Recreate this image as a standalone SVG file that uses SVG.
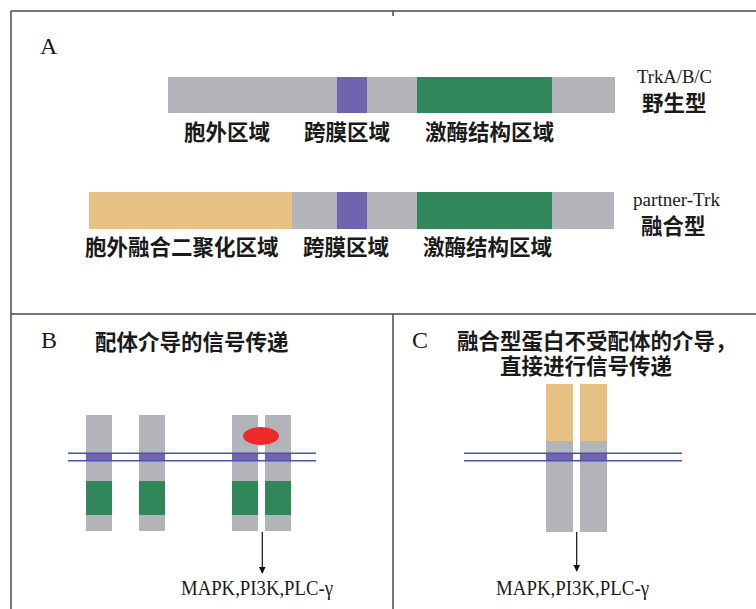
<svg xmlns="http://www.w3.org/2000/svg" width="756" height="609" viewBox="0 0 756 609">
<defs>
<style>
.frame{stroke:#4a4a4a;stroke-width:1.5;fill:none}
.gray{fill:#b3b4b9}
.tm{fill:#7064ae}
.kin{fill:#31865a}
.part{fill:#e7c083}
.mem{stroke:#4a52b3;stroke-width:1.6;fill:none}
.cjk{font-family:"Noto Sans CJK SC","Noto Sans",sans-serif;font-weight:700;font-size:21.5px;fill:#1a1a1a}
.lat{font-family:"Liberation Serif","Times New Roman",serif;fill:#1a1a1a}
.conn{stroke:#111;stroke-width:1.2;fill:none}
</style>
<marker id="arr" viewBox="0 0 10 10" refX="9" refY="5" markerWidth="7" markerHeight="9" markerUnits="userSpaceOnUse" orient="auto">
<path d="M0,0 L10,5 L0,10 z" fill="#111"/>
</marker>
</defs>
<rect width="756" height="609" fill="#ffffff"/>
<g id="frame">
<path class="frame" d="M11,11 H756 M11,11 V609 M11,314 H756 M393,314 V609 M393,11 V16"/>
</g>
<g id="panelA">
<text class="lat" x="40" y="54" font-size="24">A</text>
<g id="wildtype">
<rect class="gray" x="168" y="77" width="447" height="36"/>
<rect class="tm" x="337" y="77" width="30" height="36"/>
<rect class="kin" x="417" y="77" width="135" height="36"/>
<text class="cjk" x="184" y="140">胞外区域</text>
<text class="cjk" x="304" y="140">跨膜区域</text>
<text class="cjk" x="425" y="140">激酶结构区域</text>
<text class="lat" x="637" y="83" font-size="18.5" textLength="75" lengthAdjust="spacingAndGlyphs">TrkA/B/C</text>
<text class="cjk" x="642" y="111">野生型</text>
</g>
<g id="fusion">
<rect class="gray" x="89" y="192" width="525" height="37"/>
<rect class="part" x="89" y="192" width="203" height="37"/>
<rect class="tm" x="337" y="192" width="30" height="37"/>
<rect class="kin" x="417" y="192" width="135" height="37"/>
<text class="cjk" x="85" y="255">胞外融合二聚化区域</text>
<text class="cjk" x="303" y="255">跨膜区域</text>
<text class="cjk" x="423" y="255">激酶结构区域</text>
<text class="lat" x="633" y="206" font-size="18.5" textLength="87" lengthAdjust="spacingAndGlyphs">partner-Trk</text>
<text class="cjk" x="641" y="234">融合型</text>
</g>
</g>
<g id="panelB">
<text class="lat" x="41" y="348" font-size="24">B</text>
<text class="cjk" x="95" y="350">配体介导的信号传递</text>
<g id="receptorB1">
<rect class="gray" x="86" y="415" width="26" height="116"/>
<rect class="tm" x="86" y="453" width="26" height="8"/>
<rect class="kin" x="86" y="481" width="26" height="34"/>
</g>
<g id="receptorB2">
<rect class="gray" x="139" y="415" width="26" height="116"/>
<rect class="tm" x="139" y="453" width="26" height="8"/>
<rect class="kin" x="139" y="481" width="26" height="34"/>
</g>
<g id="receptorB3">
<rect class="gray" x="232" y="415" width="26" height="116"/>
<rect class="tm" x="232" y="453" width="26" height="8"/>
<rect class="kin" x="232" y="481" width="26" height="34"/>
</g>
<g id="receptorB4">
<rect class="gray" x="265" y="415" width="26" height="116"/>
<rect class="tm" x="265" y="453" width="26" height="8"/>
<rect class="kin" x="265" y="481" width="26" height="34"/>
</g>
<g id="membraneB">
<path class="mem" d="M68,453.3 H316 M68,460.7 H316"/>
</g>
<g id="ligand">
<ellipse cx="261" cy="436" rx="18" ry="9" fill="#ec2a2a"/>
</g>
<text class="lat" x="181" y="595" font-size="20" textLength="152" lengthAdjust="spacingAndGlyphs">MAPK,PI3K,PLC-γ</text>
</g>
<g id="panelC">
<text class="lat" x="412" y="348" font-size="24">C</text>
<text class="cjk" x="457" y="349">融合型蛋白不受配体的介导，</text>
<text class="cjk" x="500" y="374">直接进行信号传递</text>
<g id="receptorC1">
<rect class="gray" x="546" y="384" width="27" height="148"/>
<rect class="part" x="546" y="384" width="27" height="57"/>
<rect class="tm" x="546" y="453" width="27" height="8"/>
</g>
<g id="receptorC2">
<rect class="gray" x="580" y="384" width="27" height="148"/>
<rect class="part" x="580" y="384" width="27" height="57"/>
<rect class="tm" x="580" y="453" width="27" height="8"/>
</g>
<g id="membraneC">
<path class="mem" d="M464,453.3 H682 M464,460.7 H682"/>
</g>
<text class="lat" x="496" y="595" font-size="20" textLength="153" lengthAdjust="spacingAndGlyphs">MAPK,PI3K,PLC-γ</text>
</g>
<g id="connectors">
<line class="conn" x1="262.3" y1="532" x2="262.3" y2="573" marker-end="url(#arr)"/>
<line class="conn" x1="576.7" y1="532" x2="576.7" y2="571" marker-end="url(#arr)"/>
</g>
</svg>
